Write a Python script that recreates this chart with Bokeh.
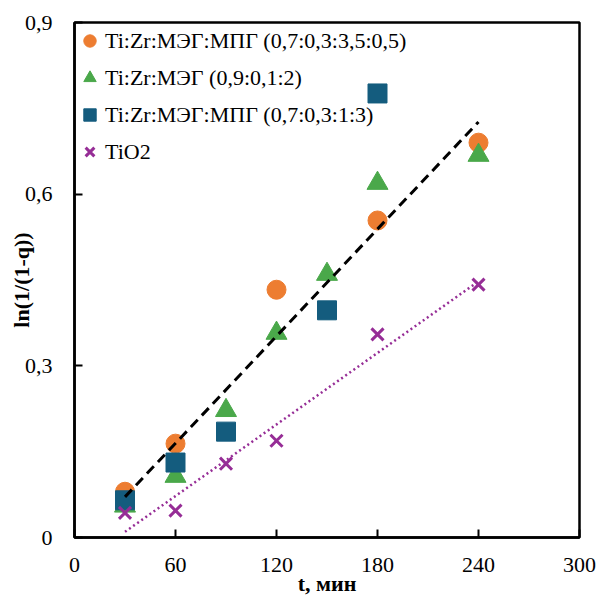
import numpy as np
from bokeh.plotting import figure
from bokeh.models import Range1d, FixedTicker, CustomJSTickFormatter, Legend, LegendItem
from bokeh.embed import file_html
from bokeh.resources import INLINE

# ---- data ----
x_a = [30, 60, 120, 180, 240]
y_a = [0.080, 0.164, 0.433, 0.554, 0.690]          # Ti:Zr:МЭГ:МПГ (0,7:0,3:3,5:0,5)
x_b = [30, 60, 90, 120, 150, 180, 240]
y_b = [0.055, 0.107, 0.222, 0.357, 0.460, 0.619, 0.668]  # Ti:Zr:МЭГ (0,9:0,1:2)
x_c = [30, 60, 90, 150, 180]
y_c = [0.065, 0.131, 0.185, 0.397, 0.776]          # Ti:Zr:МЭГ:МПГ (0,7:0,3:1:3)
x_d = [30, 60, 90, 120, 180, 240]
y_d = [0.043, 0.047, 0.129, 0.169, 0.355, 0.442]   # TiO2

labels = ["Ti:Zr:МЭГ:МПГ (0,7:0,3:3,5:0,5)", "Ti:Zr:МЭГ (0,9:0,1:2)",
          "Ti:Zr:МЭГ:МПГ (0,7:0,3:1:3)", "TiO2"]
x_ticks = [0, 60, 120, 180, 240, 300]
y_ticks = [0, 0.3, 0.6, 0.9]

c_orange = "#ED7D31"
c_green = "#4AA84A"
c_blue = "#145C7E"
c_purple = "#962D96"

FONT = "Liberation Serif"

p = figure(width=598, height=603, output_backend="svg", toolbar_location=None,
           x_range=Range1d(0, 300), y_range=Range1d(0, 0.9),
           min_border_left=74, min_border_right=19, min_border_top=22, min_border_bottom=66)
p.xgrid.visible = False
p.ygrid.visible = False
p.outline_line_color = "black"
p.outline_line_width = 2.5
p.background_fill_color = "white"

for ax in (p.xaxis[0], p.yaxis[0]):
    ax.axis_line_width = 2.5
    ax.axis_line_color = "black"
    ax.major_tick_in = 8
    ax.major_tick_out = 0
    ax.major_tick_line_width = 2
    ax.minor_tick_line_color = None
    ax.major_label_text_font = FONT
    ax.major_label_text_font_size = "22px"
    ax.major_label_text_color = "black"
    ax.axis_label_text_font = FONT
    ax.axis_label_text_font_size = "22px"
    ax.axis_label_text_font_style = "bold"
    ax.axis_label_text_color = "black"

p.xaxis.ticker = FixedTicker(ticks=x_ticks)
p.yaxis.ticker = FixedTicker(ticks=y_ticks)
p.yaxis.formatter = CustomJSTickFormatter(code="""
    if (Math.abs(tick) < 1e-9) return '0';
    return tick.toFixed(1).replace('.', ',');
""")
p.xaxis.axis_label = "t, мин"
p.yaxis.axis_label = "ln(1/(1-q))"
p.xaxis.major_label_standoff = 20
p.yaxis.major_label_standoff = 22
p.xaxis.axis_label_standoff = -4
p.yaxis.axis_label_standoff = -12

r_a = p.scatter(x_a, y_a, marker="circle", size=19, color=c_orange)
r_b = p.scatter(x_b, y_b, marker="triangle", size=21, color=c_green)
r_c = p.scatter(x_c, y_c, marker="square", size=19, color=c_blue)
r_d = p.scatter(x_d, y_d, marker="x", size=17, line_color=c_purple, line_width=3)

# trend lines (linear fits)
xab = np.array(x_a + x_b, dtype=float)
yab = np.array(y_a + y_b, dtype=float)
k1, b1 = np.polyfit(xab, yab, 1)
xl1 = np.array([xab.min(), xab.max()])
p.line(xl1, k1 * xl1 + b1, line_color="black", line_width=3, line_dash="10 6")

xd = np.array(x_d, dtype=float)
k2, b2 = np.polyfit(xd, np.array(y_d), 1)
xl2 = np.array([xd.min(), xd.max()])
p.line(xl2, k2 * xl2 + b2, line_color=c_purple, line_width=2.5, line_dash="2 3")

legend = Legend(items=[LegendItem(label=labels[0], renderers=[r_a]),
                       LegendItem(label=labels[1], renderers=[r_b]),
                       LegendItem(label=labels[2], renderers=[r_c]),
                       LegendItem(label=labels[3], renderers=[r_d])],
                location="top_left")
legend.border_line_color = None
legend.background_fill_alpha = 0
legend.margin = 0
legend.padding = 11
legend.spacing = 0
legend.glyph_width = 31
legend.glyph_height = 37
legend.label_standoff = 0
legend.label_text_font = FONT
legend.label_text_font_size = "22px"
legend.label_text_color = "black"
p.add_layout(legend)

open("out.html", "w").write(file_html(p, INLINE))
